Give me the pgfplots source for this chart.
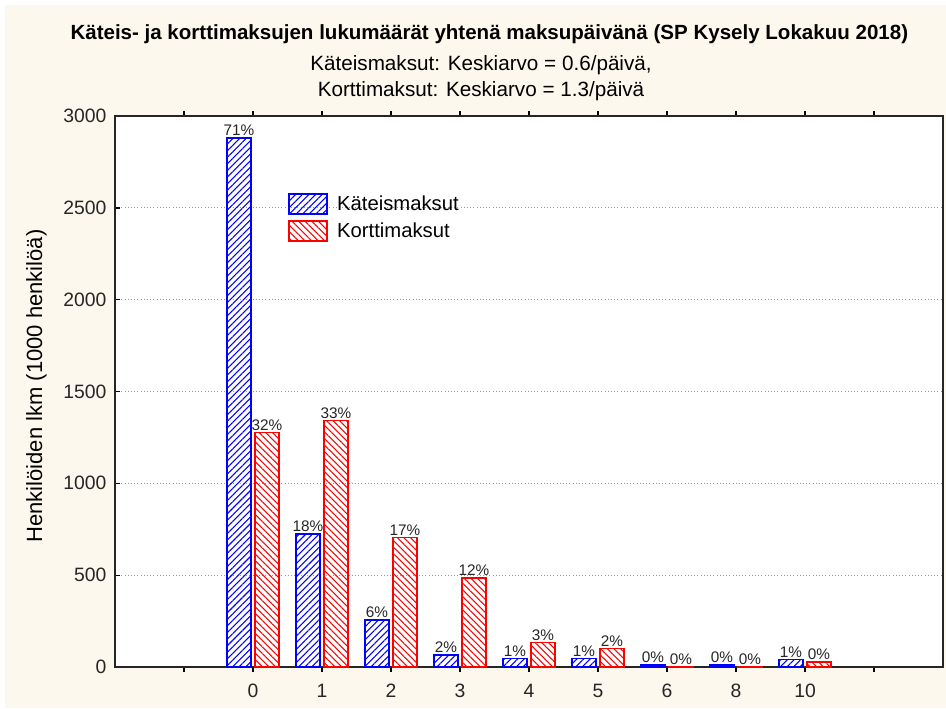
\documentclass[border=0pt]{standalone}
\usepackage{fontspec}
\setmainfont{Liberation Sans}
\usepackage{pgfplots}
\usepackage{pgfplotstable}
\pgfplotsset{compat=1.18}
\usetikzlibrary{patterns.meta}
\definecolor{cream}{RGB}{253,248,238}
\definecolor{gridgray}{RGB}{150,150,150}

\pgfplotstableread{
x y p
0 2880 71
1 725 18
2 256 6
3 65 2
4 47 1
5 45 1
6 10 0
7 10 0
8 42 1
}\cash
\pgfplotstableread{
x y p
0 1276 32
1 1342 33
2 705 17
3 484 12
4 133 3
5 100 2
6 3 0
7 2 0
8 27 0
}\card

\begin{document}
\begin{tikzpicture}
\fill[white] (0,0) rectangle (709.5pt,531pt);
\fill[cream] (3.75pt,0) rectangle (709.5pt,527.25pt);
\node[font=\bfseries\fontsize{15.4}{17}\selectfont] at (367pt,505pt) {Käteis- ja korttimaksujen lukumäärät yhtenä maksupäivänä (SP Kysely Lokakuu 2018)};
\node[font=\fontsize{15.5}{17}\selectfont] at (360.75pt,482.5pt) {Käteismaksut: Keskiarvo = 0.6/päivä,};
\node[font=\fontsize{15.5}{17}\selectfont] at (360.75pt,463pt) {Korttimaksut: Keskiarvo = 1.3/päivä};
\begin{axis}[
  at={(86.25pt,30.75pt)}, anchor=south west,
  scale only axis, width=621pt, height=413.25pt,
  axis background/.style={fill=white},
  ybar=3pt, bar width=18pt,
  xmin=-2, xmax=10, ymin=0, ymax=3000,
  xtick={-1,0,...,9}, xticklabels={,0,1,2,3,4,5,6,8,10,},
  ytick={0,500,...,3000},
  ytick pos=left,
  /pgf/number format/1000 sep={},
  /pgf/number format/assume math mode=true,
  ymajorgrids, major grid style={gridgray, dotted, line width=0.8pt},
  axis line style={black!85, line width=1.1pt},
  major tick length=3.5pt,
  tick style={black, line width=1pt},
  tick label style={font=\fontsize{14.5}{16}\selectfont, text=black!85},
  xticklabel style={yshift=-6pt},
  yticklabel style={xshift=-3pt},
  ylabel={Henkilöiden lkm (1000 henkilöä)},
  every axis y label/.style={at={(axis description cs:-0.095,0.51)}, rotate=90, anchor=center, font=\fontsize{16.5}{18}\selectfont},
  nodes near coords={\pgfplotspointmeta\%},
  point meta=explicit symbolic,
  every node near coord/.append style={font=\fontsize{11.5}{13}\selectfont, text=black!85, inner sep=1pt},
  legend style={at={(0.209,0.861)}, anchor=north west, draw=none, fill=none, font=\fontsize{15.2}{17}\selectfont, row sep=4pt, column sep=5pt, inner sep=0pt},
  legend cell align=left,
  legend image code/.code={\draw[#1] (0pt,-7.5pt) rectangle (28.5pt,7.5pt);},
]
\addplot[draw=blue, line width=1.1pt, pattern={Lines[angle=45,distance=3.5pt,line width=0.8pt]}, pattern color=blue] table[x=x,y=y,meta=p] {\cash};
\addplot[draw=red, line width=1.1pt, pattern={Lines[angle=-45,distance=3.5pt,line width=0.8pt]}, pattern color=red] table[x=x,y=y,meta=p] {\card};
\legend{Käteismaksut, Korttimaksut}
\end{axis}
\end{tikzpicture}
\end{document}
